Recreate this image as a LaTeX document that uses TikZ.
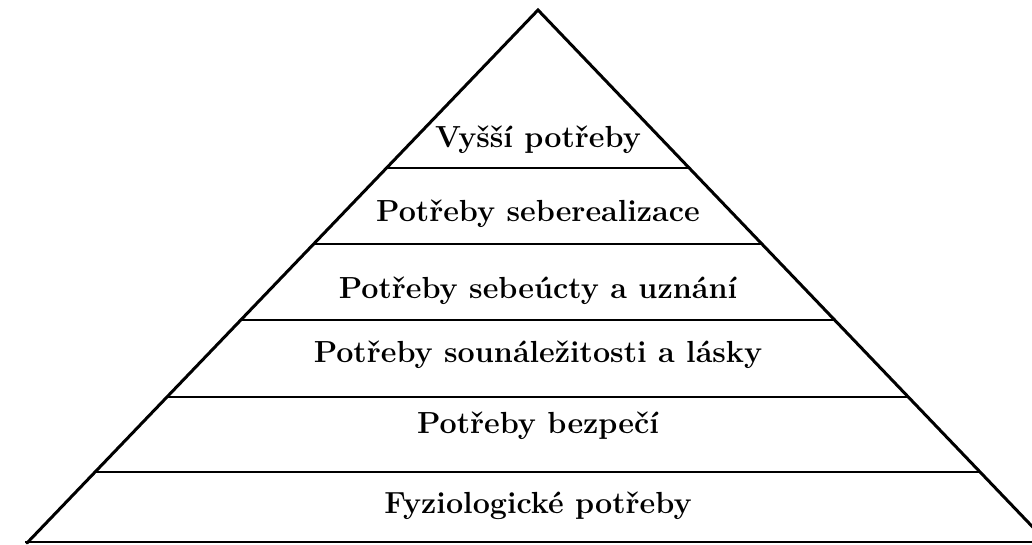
\documentclass[tikz,border=0pt]{standalone}
\usepackage{fontspec}
\begin{document}
\begin{tikzpicture}[x=1pt,y=-1pt,
  edge/.style={line width=3pt,line cap=round,line join=miter},
  level/.style={line width=2.8pt},
  lbl/.style={font=\fontsize{30.5}{36}\selectfont\bfseries,inner sep=0pt,anchor=base}]
\useasboundingbox (0,0) rectangle (1032,545);
\clip (0,0) rectangle (1032,545);
\coordinate (apex) at (538,10);
\coordinate (bl) at (27,543);
\coordinate (br) at (1048,543);
\draw[edge] (bl) -- (apex) -- (br);
\draw[level] (25,542) -- (1040,542);
\foreach \y in {168,244,320,397,472}{
  \draw[level] ({538-0.959*(\y-10)},\y) -- ({538+0.957*(\y-10)},\y);
}
\node[lbl] (t1) at (538,148) {Vyšší potřeby};
\node[lbl] (t2) at (538,222) {Potřeby seberealizace};
\node[lbl] (t3) at (538,298) {Potřeby sebeúcty a uznání};
\node[lbl] (t4) at (538,362) {Potřeby sounáležitosti a lásky};
\node[lbl] (t5) at (538,433) {Potřeby bezpečí};
\node[lbl] (t6) at (538,513) {Fyziologické potřeby};
\end{tikzpicture}
\end{document}
